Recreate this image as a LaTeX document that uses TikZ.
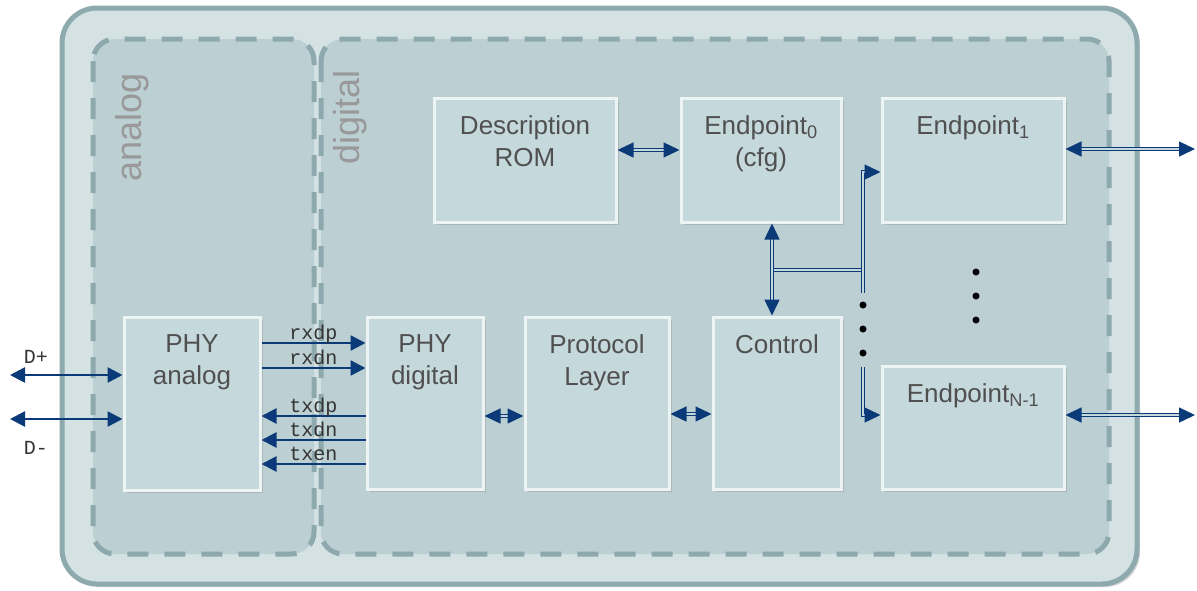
\documentclass[tikz,border=0pt]{standalone}
\usepackage{fontspec}
\setmainfont{Liberation Sans}
\newfontfamily\sigfont{Liberation Mono}
\usetikzlibrary{arrows.meta,shadows}
\definecolor{outerfill}{HTML}{D4E2E4}
\definecolor{outerline}{HTML}{8EAAAE}
\definecolor{regionfill}{HTML}{BCCFD3}
\definecolor{dashcol}{HTML}{8EA9AD}
\definecolor{boxfill}{HTML}{C5D8DC}
\definecolor{boxline}{HTML}{EEF3F3}
\definecolor{navy}{HTML}{0B3A78}
\definecolor{txt}{HTML}{505050}
\definecolor{regiontxt}{HTML}{999999}
\definecolor{sigtxt}{HTML}{333333}
\begin{document}
\begin{tikzpicture}[x=1pt,y=-1pt,
  >={Triangle[length=15pt,width=15pt]},
  blk/.style={draw=boxline, line width=3pt, fill=boxfill,
    drop shadow={opacity=0.3,shadow xshift=2.5pt,shadow yshift=-2.5pt},
    inner sep=0pt},
  boxtext/.style={anchor=north, yshift=-19pt, align=center, inner sep=0pt,
    text=txt, font=\fontsize{26}{32}\selectfont},
  regionlbl/.style={rotate=90, anchor=base west, inner sep=0pt, text=regiontxt,
    font=\fontsize{36}{36}\selectfont},
  region/.style={draw=dashcol, line width=5pt, dash pattern=on 21pt off 16pt,
    fill=regionfill, rounded corners=22pt},
  sig/.style={draw=navy, line width=2.5pt},
  dbl/.style={draw=navy, line width=1.3pt, double=boxfill, double distance=2pt,
    >={Triangle[length=16pt,width=15pt]}},
  siglbl/.style={anchor=base, yshift=4pt, inner sep=0pt, text=sigtxt,
    font=\sigfont\fontsize{20}{20}\selectfont},
  pinlbl/.style={anchor=base, inner sep=0pt, text=sigtxt,
    font=\sigfont\fontsize{20}{20}\selectfont},
  dot/.style={fill=black}
]
\useasboundingbox (0,0) rectangle (1197,590);
% frames
\draw[outerline, line width=5pt, fill=outerfill, rounded corners=35pt,
  drop shadow={opacity=0.35,shadow xshift=3pt,shadow yshift=-3pt}] (62,8) rectangle (1137,584);
\draw[region] (93,39) rectangle (314,554);
\draw[region] (321,39) rectangle (1109,554);
\node[regionlbl] (alab) at (141,182) {analog};
\node[regionlbl] (dlab) at (359,165) {digital};
% blocks
\node[blk, minimum width=136pt, minimum height=173pt,
  label={[boxtext]north:PHY\\analog}] (phyA) at (192,403.5) {};
\node[blk, minimum width=116pt, minimum height=172pt,
  label={[boxtext]north:PHY\\digital}] (phyD) at (425,403) {};
\node[blk, minimum width=144pt, minimum height=172pt,
  label={[boxtext]north:Protocol\\Layer}] (prot) at (597,403) {};
\node[blk, minimum width=128pt, minimum height=172pt,
  label={[boxtext]north:Control}] (ctl) at (777,403) {};
\node[blk, minimum width=182pt, minimum height=124pt,
  label={[boxtext]north:Description\\ROM}] (rom) at (525,160) {};
\node[blk, minimum width=160pt, minimum height=124pt,
  label={[boxtext]north:Endpoint\textsubscript{0}\\(cfg)}] (ep0) at (761,160) {};
\node[blk, minimum width=182pt, minimum height=124pt,
  label={[boxtext]north:Endpoint\textsubscript{1}}] (ep1) at (973,160) {};
\node[blk, minimum width=182pt, minimum height=123pt,
  label={[boxtext]north:Endpoint\textsubscript{N-1}}] (epN) at (973,427.5) {};
% helper coordinates
\coordinate (dp) at (10,375);
\coordinate (dm) at (10,419);
\coordinate (yrxdp) at (0,343);
\coordinate (yrxdn) at (0,368);
\coordinate (ytxdp) at (0,416);
\coordinate (ytxdn) at (0,440);
\coordinate (ytxen) at (0,464);
\coordinate (yrom) at (0,150);
\coordinate (ypp) at (0,416);
\coordinate (ypc) at (0,414);
\coordinate (bx) at (772,0);
\coordinate (ja) at (772,270);
\coordinate (jb) at (863,270);
\coordinate (t1) at (863,172);
\coordinate (t2) at (863,293);
\coordinate (u1) at (863,367);
\coordinate (u2) at (863,415);
\coordinate (o1) at (1195,149);
\coordinate (oN) at (1195,415);
% pins
\draw[sig,<->] (dp) -- (dp -| phyA.west);
\draw[sig,<->] (dm) -- (dm -| phyA.west);
\node[pinlbl] (dplbl) at (36,363) {D+};
\node[pinlbl] (dmlbl) at (36,454) {D-};
% analog <-> digital signals
\draw[sig,->] (yrxdp -| phyA.east) -- (yrxdp -| phyD.west) node[midway,siglbl] {rxdp};
\draw[sig,->] (yrxdn -| phyA.east) -- (yrxdn -| phyD.west) node[midway,siglbl] {rxdn};
\draw[sig,->] (ytxdp -| phyD.west) -- (ytxdp -| phyA.east) node[midway,siglbl] {txdp};
\draw[sig,->] (ytxdn -| phyD.west) -- (ytxdn -| phyA.east) node[midway,siglbl] {txdn};
\draw[sig,->] (ytxen -| phyD.west) -- (ytxen -| phyA.east) node[midway,siglbl] {txen};
% internal links
\draw[dbl,<->] (ypp -| phyD.east) -- (ypp -| prot.west);
\draw[dbl,<->] (ypc -| prot.east) -- (ypc -| ctl.west);
\draw[dbl,<->] (yrom -| rom.east) -- (yrom -| ep0.west);
% bus
\draw[dbl] (ja) -- (jb);
\draw[dbl,<->] (ep0.south -| bx) -- (ctl.north -| bx);
\draw[dbl,->] (t2) -- (t1) -- (t1 -| ep1.west);
\draw[dbl,->] (u1) -- (u2) -- (u2 -| epN.west);
% outputs
\draw[dbl,<->] (o1 -| ep1.east) -- (o1);
\draw[dbl,<->] (oN -| epN.east) -- (oN);
% dots
\fill[dot] (863,305) circle (3.5pt);
\fill[dot] (863,329) circle (3.5pt);
\fill[dot] (863,353) circle (3.5pt);
\fill[dot] (976,272) circle (3.5pt);
\fill[dot] (976,296) circle (3.5pt);
\fill[dot] (976,320) circle (3.5pt);
\end{tikzpicture}
\end{document}
